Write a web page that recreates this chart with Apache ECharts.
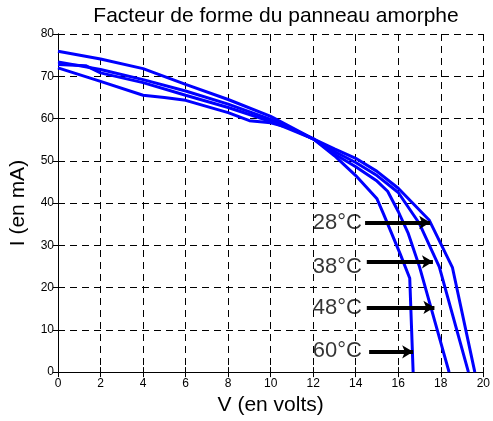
<!DOCTYPE html>
<html>
<head>
<meta charset="utf-8">
<script src="https://cdn.jsdelivr.net/npm/echarts@6/dist/echarts.min.js"></script>
<style>
  html, body { margin: 0; padding: 0; background: #fff; }
  #chart { width: 493px; height: 421px; }
</style>
</head>
<body>
<div id="chart"></div>
<script>
// I-V curves [V (volts), I (mA)]
const curve28 = [[0, 72.0], [2, 68.8], [4, 65.5], [5, 65.0], [6, 64.3], [8, 61.4], [9, 59.5], [10, 59.0], [11, 57.6], [12, 55.2], [13, 52.8], [14, 50.6], [15, 47.5], [16, 43.5], [17.45, 36.0], [18.55, 24.7], [19.6, 0]];
const curve38 = [[0, 72.8], [1.3, 72.5], [2, 70.8], [4, 68.5], [6, 65.5], [8, 62.6], [10, 59.3], [12, 55.2], [13, 52.2], [14, 49.6], [15, 46.5], [16, 42.5], [17, 35.1], [17.93, 24.9], [19.3, 0]];
const curve48 = [[0, 73.4], [2, 71.6], [4, 69.2], [6, 66.5], [8, 63.4], [10, 59.8], [12, 55.2], [13, 51.6], [14, 48.6], [15, 45.2], [15.5, 42.8], [16, 38.0], [16.47, 32.8], [17, 24.9], [18.39, 0]];
const curve60 = [[0, 75.9], [2, 74.1], [4, 71.8], [6, 68.1], [8, 64.5], [10, 60.5], [12, 55.2], [13, 51.2], [14, 46.5], [15, 41.0], [15.3, 37.5], [16.08, 28.1], [16.54, 22.2], [16.7, 0]];

// annotations
const tempLabels = ["28°C", "38°C", "48°C", "60°C"];
const labelV = [11.98, 11.98, 11.98, 11.98];
const labelI = [35.3, 25.0, 15.1, 4.9];
const arrowStartV = [14.44, 14.52, 14.52, 14.63];
const arrowEndV = [17.5, 17.63, 17.7, 16.7];
const arrowI = [35.4, 26.1, 15.3, 4.8];

const FONT = "'Liberation Sans', Arial, sans-serif";
const BLUE = "#0000ff";

const chart = echarts.init(document.getElementById("chart"), null, { renderer: "canvas" });

const frameAxis = {
  min: 0,
  axisLine: { show: true, lineStyle: { color: "#000", width: 1 } },
  axisTick: { show: true, inside: true, length: 5, lineStyle: { color: "#000" } },
  axisLabel: { show: false },
  splitLine: { show: false },
};

const curveSeries = [curve28, curve38, curve48, curve60].map((data, i) => ({
  type: "line",
  name: tempLabels[i],
  data: data,
  showSymbol: false,
  symbol: "none",
  lineStyle: { color: BLUE, width: 3 },
  z: 3,
}));

const option = {
  animation: false,
  backgroundColor: "#fff",
  textStyle: { fontFamily: FONT },
  title: {
    text: "Facteur de forme du panneau amorphe",
    left: 271,
    textAlign: "center",
    top: 1,
    textStyle: { fontFamily: FONT, fontSize: 21, fontWeight: "normal", color: "#000" },
  },
  grid: { left: 54, right: 5, top: 34, bottom: 47, containLabel: false },
  xAxis: [
    {
      type: "value",
      min: 0,
      max: 20,
      interval: 2,
      name: "V (en volts)",
      nameLocation: "middle",
      nameGap: 19,
      nameTextStyle: { fontFamily: FONT, fontSize: 21, color: "#000" },
      axisLine: { show: true, lineStyle: { color: "#000", width: 1 } },
      axisTick: { show: true, inside: true, length: 5, lineStyle: { color: "#000" } },
      axisLabel: { color: "#000", fontFamily: FONT, fontSize: 12, margin: 6 },
      splitLine: { show: true, lineStyle: { color: "#000", width: 1, type: [7, 5] } },
    },
    Object.assign({ type: "value", position: "top", max: 20, interval: 2 }, frameAxis),
  ],
  yAxis: [
    {
      type: "value",
      min: 0,
      max: 80,
      interval: 10,
      name: "I (en mA)",
      nameLocation: "middle",
      nameGap: 29,
      nameTextStyle: { fontFamily: FONT, fontSize: 21, color: "#000" },
      axisLine: { show: true, lineStyle: { color: "#000", width: 1 } },
      axisTick: { show: true, inside: true, length: 5, lineStyle: { color: "#000" } },
      axisLabel: { color: "#000", fontFamily: FONT, fontSize: 12, margin: 4 },
      splitLine: { show: true, lineStyle: { color: "#000", width: 1, type: [7, 5] } },
    },
    Object.assign({ type: "value", position: "right", max: 80, interval: 10 }, frameAxis),
  ],
  series: curveSeries.concat([
    {
      type: "scatter",
      name: "labels",
      data: tempLabels.map((t, i) => [labelV[i], labelI[i], t]),
      symbolSize: 0,
      silent: true,
      z: 4,
      label: {
        show: true,
        position: "right",
        distance: 0,
        formatter: (p) => p.value[2],
        fontFamily: FONT,
        fontSize: 22,
        color: "#000",
      },
      markLine: {
        silent: true,
        symbol: ["none", "arrow"],
        symbolSize: [10, 11],
        label: { show: false },
        lineStyle: { color: "#000", width: 4, type: "solid" },
        data: arrowI.map((y, i) => [
          { coord: [arrowStartV[i], y] },
          { coord: [arrowEndV[i], y] },
        ]),
      },
    },
  ]),
};

chart.setOption(option);
</script>
</body>
</html>
